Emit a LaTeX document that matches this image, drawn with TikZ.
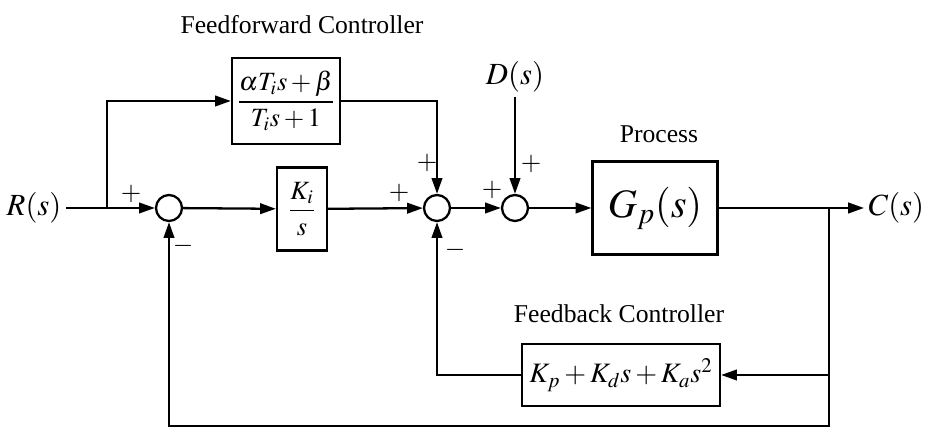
\documentclass[tikz,border=0pt]{standalone}
\usepackage{amsmath}
\usepackage{mathptmx}
\usepackage{fontspec}
\setmainfont{Liberation Serif}
\usepackage{tikz}
\usetikzlibrary{positioning, arrows.meta, calc}
\tikzset{
    block/.style = {draw, rectangle, inner sep=2pt,
                    font=\fontsize{15}{18}\selectfont},
    sumnode/.style = {draw, circle, inner sep=0pt, minimum size=0.52cm},
    caption/.style = {font=\fontsize{14.6}{17}\selectfont},
    iolabel/.style = {inner sep=2pt, font=\fontsize{17.5}{20}\selectfont},
    sign/.style = {inner sep=0pt, font=\fontsize{15}{15}\selectfont},
    arrow/.style = {-{Triangle[length=9pt, width=6pt]}},
}

\begin{document}
\begin{tikzpicture}[x=0.02cm, y=-0.02cm, line width=1.3pt]
        \useasboundingbox (0,0) rectangle (934,431);
        % summing junctions
        \node[sumnode] (sumA) at (169,208) {};
        \node[sumnode] (sumB) at (437,208) {};
        \node[sumnode] (sumC) at (515,208) {};
        % blocks
        \node[block, minimum width=1cm, minimum height=1.66cm] (ki) at (302,209) {$\dfrac{K_i}{s}$};
        \node[block, minimum width=2.16cm, minimum height=1.72cm] (ff) at (286,101) {$\dfrac{\alpha T_i s+\beta}{T_i s+1}$};
        \node[block, minimum width=2.5cm, minimum height=1.86cm, font=\fontsize{23}{26}\selectfont] (plant) at (655,208) {$G_p(s)$};
        \node[block, minimum width=3.96cm, minimum height=1.24cm, font=\fontsize{16}{19}\selectfont] (fb) at (621,375) {$K_p+K_d s+K_a s^2$};
        % signals
        \node[iolabel, anchor=east] (R) at (66,208) {$R(s)$};
        \node[iolabel, anchor=west] (C) at (864,208) {$C(s)$};
        \node[iolabel] (D) at (515,77) {$D(s)$};
        % captions
        \node[caption] (fflabel) at (302,25) {Feedforward Controller};
        \node[caption] (proclabel) at (659,134) {Process};
        \node[caption] (fblabel) at (619,314) {Feedback Controller};
        % signs
        \node[sign] (pA) at (131,194) {$+$};
        \node[sign] (mA) at (183,246) {$-$};
        \node[sign] (pB1) at (399,193) {$+$};
        \node[sign] (pB2) at (427,163) {$+$};
        \node[sign] (mB) at (455,250) {$-$};
        \node[sign] (pC1) at (492,190) {$+$};
        \node[sign] (pC2) at (531,164) {$+$};
        % branch points
        \coordinate (branch) at (107,208);
        \coordinate (takeoff) at (829,208);
        \coordinate (bottom) at (829,426);
        % forward path
        \draw[arrow] (R.east) -- (sumA.west);
        \draw[arrow] (sumA) -- (ki);
        \draw[arrow] (ki) -- (sumB);
        \draw[arrow] (sumB) -- (sumC);
        \draw[arrow] (sumC) -- (plant);
        \draw[arrow] (plant.east) -- (C.west);
        % feedforward
        \draw[arrow] (branch) |- (ff.west);
        \draw[arrow] (ff.east) -| (sumB.north);
        \draw[arrow] (D) -- (sumC);
        % feedback loops
        \draw[arrow] (takeoff) |- (fb.east);
        \draw[arrow] (fb.west) -| (sumB.south);
        \draw[arrow] (takeoff) -- (bottom) -| (sumA.south);
      \end{tikzpicture}
\end{document}
